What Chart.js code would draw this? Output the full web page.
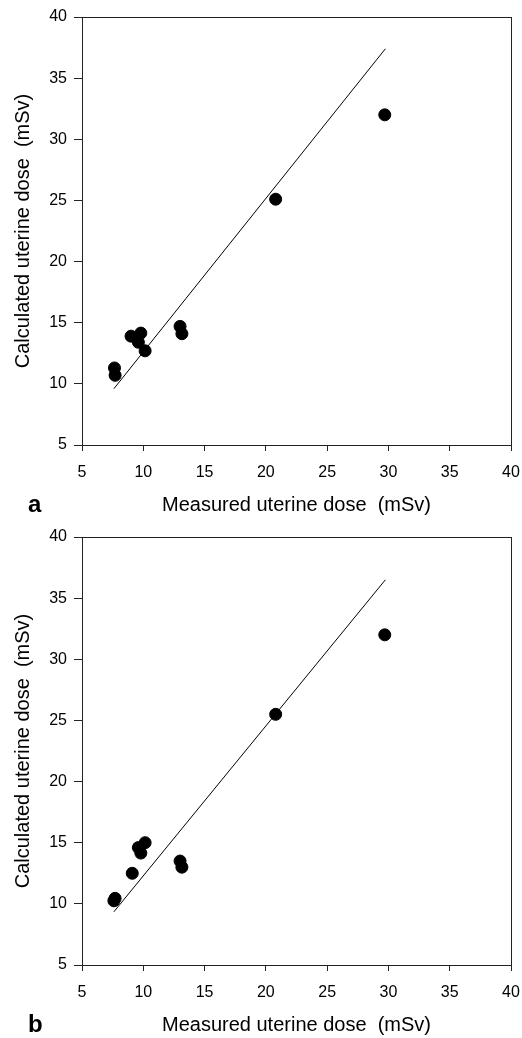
<!DOCTYPE html>
<html>
<head>
<meta charset="utf-8">
<script src="https://cdn.jsdelivr.net/npm/chart.js@4/dist/chart.umd.min.js"></script>
<style>
  html, body { margin: 0; padding: 0; background: #fff; overflow: hidden; }
  .panel { position: absolute; left: 0; width: 522px; height: 520px; }
  .label { position: absolute; left: 28px; top: 490px; font: bold 24px "Liberation Sans", Arial, sans-serif; color: #000; }
</style>
</head>
<body>
<div class="panel" style="top:0"><canvas id="chartA" width="522" height="520"></canvas><div class="label">a</div></div>
<div class="panel" style="top:520px"><canvas id="chartB" width="522" height="520"></canvas><div class="label">b</div></div>
<script>
// ----- data -----
const axisTicks = [5, 10, 15, 20, 25, 30, 35, 40];

// panel a
const measuredA = [7.65, 7.7, 9.0, 9.6, 9.8, 10.15, 13.0, 13.15, 20.8, 29.7];
const calcA     = [11.3, 10.7, 13.9, 13.4, 14.15, 12.7, 14.7, 14.1, 25.1, 32.0];
const lineXA = [7.6, 29.75];
const lineYA = [9.6, 37.4];

// panel b
const measuredB = [7.6, 7.7, 9.1, 9.6, 9.8, 10.15, 13.0, 13.15, 20.8, 29.7];
const calcB     = [10.25, 10.45, 12.5, 14.6, 14.15, 15.0, 13.5, 13.0, 25.5, 32.0];
const lineXB = [7.6, 29.75];
const lineYB = [9.35, 36.5];

const fontFam = '"Liberation Sans", Arial, sans-serif';

// draws the box round the plot area
const frame = {
  id: 'frame',
  afterDraw(chart) {
    const a = chart.chartArea;
    const c = chart.ctx;
    c.save();
    c.strokeStyle = '#222';
    c.lineWidth = 1;
    c.strokeRect(Math.round(a.left) + 0.5, Math.round(a.top) + 0.5, Math.round(a.right - a.left), Math.round(a.bottom - a.top));
    c.restore();
  }
};

function makeChart(id, mx, my, lx, ly) {
  const pts = mx.map((v, i) => ({ x: v, y: my[i] }));
  const fit = lx.map((v, i) => ({ x: v, y: ly[i] }));
  new Chart(document.getElementById(id), {
    type: 'scatter',
    data: {
      datasets: [
        {
          data: fit,
          showLine: true,
          borderColor: '#000',
          borderWidth: 1,
          pointRadius: 0,
          fill: false
        },
        {
          data: pts,
          backgroundColor: '#000',
          borderColor: '#000',
          pointRadius: 6,
          pointHoverRadius: 6
        }
      ]
    },
    options: {
      responsive: false,
      animation: false,
      events: [],
      layout: { padding: { top: 17, right: 11, left: 0, bottom: 0 } },
      plugins: { legend: { display: false }, tooltip: { enabled: false } },
      scales: {
        x: {
          type: 'linear',
          min: 5, max: 40,
          afterBuildTicks: s => { s.ticks = axisTicks.map(v => ({ value: v })); },
          afterFit: s => { s.height = 75; s.paddingLeft = 0; s.paddingRight = 0; },
          grid: { display: true, drawOnChartArea: false, tickLength: 6, color: '#222' },
          border: { display: true, color: '#222' },
          ticks: { color: '#000', padding: 12, maxRotation: 0, font: { family: fontFam, size: 16 } },
          title: { display: true, text: 'Measured uterine dose  (mSv)', color: '#000', padding: { top: 0, bottom: 3 }, font: { family: fontFam, size: 20 } }
        },
        y: {
          type: 'linear',
          min: 5, max: 40,
          afterBuildTicks: s => { s.ticks = axisTicks.map(v => ({ value: v })); },
          afterFit: s => { s.width = 82; s.paddingTop = 0; s.paddingBottom = 0; },
          grid: { display: true, drawOnChartArea: false, tickLength: 8, color: '#222' },
          border: { display: true, color: '#222' },
          ticks: { color: '#000', padding: 7, font: { family: fontFam, size: 16 } },
          title: { display: true, text: 'Calculated uterine dose  (mSv)', color: '#000', padding: { top: 11, bottom: 0 }, font: { family: fontFam, size: 20 } }
        }
      }
    },
    plugins: [frame]
  });
}

makeChart('chartA', measuredA, calcA, lineXA, lineYA);
makeChart('chartB', measuredB, calcB, lineXB, lineYB);
</script>
</body>
</html>
